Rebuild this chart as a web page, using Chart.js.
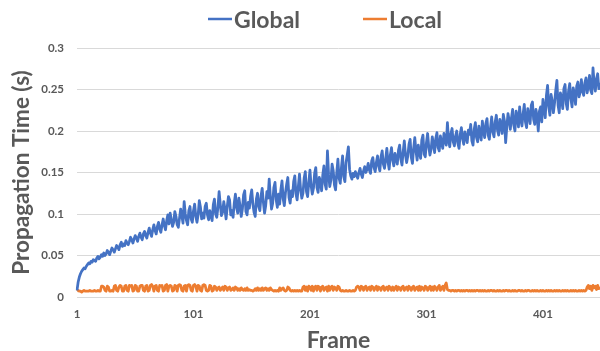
<!DOCTYPE html>
<html>
<head>
<meta charset="utf-8">
<script src="https://cdn.jsdelivr.net/npm/chart.js@4/dist/chart.umd.min.js"></script>
<style>
  html, body { margin: 0; padding: 0; background: #ffffff; }
  #wrap { width: 600px; height: 351px; }
</style>
</head>
<body>
<div id="wrap"><canvas id="chart" width="600" height="351"></canvas></div>
<script>
// Propagation time per frame (seconds)
const seriesNames = ['Global', 'Local'];
const seriesColors = ['#4472C4', '#ED7D31'];

const globalTimes = [
  0.008, 0.018, 0.024, 0.028, 0.031, 0.033, 0.035, 0.034, 0.037, 0.039,
  0.041, 0.040, 0.043, 0.042, 0.045, 0.044, 0.043, 0.047, 0.049, 0.046,
  0.048, 0.051, 0.049, 0.053, 0.050, 0.052, 0.056, 0.054, 0.051, 0.055,
  0.059, 0.057, 0.054, 0.058, 0.062, 0.060, 0.057, 0.063, 0.066, 0.061,
  0.064, 0.062, 0.068, 0.065, 0.063, 0.067, 0.072, 0.069, 0.065, 0.070,
  0.074, 0.071, 0.067, 0.073, 0.077, 0.072, 0.069, 0.076, 0.079, 0.074,
  0.071, 0.078, 0.083, 0.077, 0.073, 0.081, 0.087, 0.080, 0.076, 0.085,
  0.090, 0.082, 0.078, 0.087, 0.094, 0.086, 0.081, 0.092, 0.099, 0.088,
  0.101, 0.093, 0.085, 0.090, 0.103, 0.097, 0.087, 0.084, 0.095, 0.106,
  0.098, 0.089, 0.115, 0.100, 0.092, 0.087, 0.104, 0.109, 0.094, 0.090,
  0.104, 0.112, 0.097, 0.090, 0.099, 0.116, 0.108, 0.094, 0.101, 0.095,
  0.109, 0.113, 0.099, 0.093, 0.104, 0.098, 0.092, 0.111, 0.118, 0.100,
  0.096, 0.108, 0.127, 0.112, 0.098, 0.102, 0.115, 0.106, 0.094, 0.109,
  0.121, 0.117, 0.099, 0.104, 0.096, 0.113, 0.124, 0.108, 0.101, 0.119,
  0.110, 0.097, 0.106, 0.123, 0.128, 0.103, 0.099, 0.114, 0.107, 0.121,
  0.129, 0.112, 0.102, 0.097, 0.118, 0.125, 0.109, 0.104, 0.122, 0.131,
  0.114, 0.101, 0.110, 0.127, 0.119, 0.142, 0.121, 0.106, 0.113, 0.132,
  0.138, 0.117, 0.108, 0.124, 0.112, 0.129, 0.140, 0.118, 0.110, 0.126,
  0.136, 0.144, 0.120, 0.113, 0.128, 0.121, 0.139, 0.146, 0.124, 0.117,
  0.133, 0.148, 0.129, 0.119, 0.125, 0.143, 0.151, 0.127, 0.121, 0.138,
  0.153, 0.134, 0.124, 0.131, 0.149, 0.156, 0.132, 0.126, 0.144, 0.139,
  0.128, 0.147, 0.158, 0.136, 0.130, 0.176, 0.148, 0.133, 0.141, 0.160,
  0.152, 0.135, 0.129, 0.150, 0.166, 0.143, 0.137, 0.156, 0.170, 0.145,
  0.139, 0.162, 0.171, 0.181, 0.154, 0.146, 0.142, 0.149, 0.145, 0.151,
  0.147, 0.143, 0.150, 0.155, 0.148, 0.144, 0.152, 0.157, 0.150, 0.154,
  0.161, 0.153, 0.149, 0.164, 0.168, 0.156, 0.151, 0.162, 0.170, 0.158,
  0.152, 0.169, 0.176, 0.160, 0.155, 0.166, 0.179, 0.163, 0.154, 0.171,
  0.180, 0.165, 0.158, 0.173, 0.167, 0.160, 0.177, 0.183, 0.166, 0.159,
  0.175, 0.188, 0.171, 0.162, 0.170, 0.184, 0.190, 0.168, 0.161, 0.179,
  0.192, 0.176, 0.165, 0.183, 0.174, 0.167, 0.189, 0.195, 0.172, 0.169,
  0.186, 0.197, 0.181, 0.171, 0.178, 0.193, 0.184, 0.174, 0.191, 0.198,
  0.180, 0.176, 0.194, 0.186, 0.179, 0.197, 0.188, 0.183, 0.210, 0.189,
  0.181, 0.197, 0.203, 0.187, 0.182, 0.194, 0.200, 0.185, 0.179, 0.196,
  0.204, 0.191, 0.184, 0.199, 0.193, 0.186, 0.201, 0.196, 0.208, 0.188,
  0.183, 0.202, 0.210, 0.192, 0.187, 0.206, 0.197, 0.189, 0.212, 0.200,
  0.192, 0.209, 0.215, 0.195, 0.190, 0.204, 0.217, 0.199, 0.193, 0.211,
  0.219, 0.201, 0.195, 0.214, 0.208, 0.197, 0.220, 0.212, 0.186, 0.205,
  0.221, 0.213, 0.202, 0.216, 0.226, 0.207, 0.200, 0.224, 0.218, 0.205,
  0.229, 0.214, 0.206, 0.221, 0.232, 0.211, 0.204, 0.227, 0.219, 0.209,
  0.231, 0.235, 0.214, 0.208, 0.226, 0.218, 0.200, 0.224, 0.229, 0.211,
  0.238, 0.227, 0.216, 0.243, 0.255, 0.229, 0.219, 0.244, 0.236, 0.222,
  0.234, 0.249, 0.261, 0.231, 0.222, 0.246, 0.240, 0.227, 0.251, 0.256,
  0.233, 0.226, 0.248, 0.257, 0.239, 0.229, 0.252, 0.245, 0.232, 0.254,
  0.259, 0.241, 0.247, 0.262, 0.248, 0.243, 0.258, 0.264, 0.246, 0.255,
  0.267, 0.249, 0.245, 0.276, 0.257, 0.248, 0.263, 0.269, 0.251, 0.258
];

const localTimes = [
  0.007, 0.008, 0.007, 0.007, 0.006, 0.007, 0.008, 0.007, 0.007, 0.007,
  0.007, 0.008, 0.007, 0.007, 0.007, 0.008, 0.007, 0.007, 0.008, 0.007,
  0.007, 0.013, 0.013, 0.012, 0.008, 0.007, 0.013, 0.012, 0.007, 0.007,
  0.008, 0.007, 0.013, 0.014, 0.008, 0.007, 0.012, 0.014, 0.013, 0.007,
  0.007, 0.013, 0.014, 0.008, 0.007, 0.014, 0.013, 0.014, 0.007, 0.008,
  0.014, 0.013, 0.007, 0.007, 0.013, 0.014, 0.014, 0.008, 0.007, 0.013,
  0.014, 0.007, 0.008, 0.014, 0.015, 0.013, 0.007, 0.013, 0.014, 0.008,
  0.007, 0.014, 0.013, 0.014, 0.007, 0.008, 0.014, 0.015, 0.007, 0.013,
  0.014, 0.013, 0.007, 0.008, 0.014, 0.013, 0.007, 0.014, 0.015, 0.014,
  0.008, 0.007, 0.013, 0.014, 0.007, 0.014, 0.015, 0.014, 0.008, 0.007,
  0.014, 0.015, 0.013, 0.007, 0.014, 0.013, 0.008, 0.007, 0.014, 0.015,
  0.014, 0.008, 0.007, 0.008, 0.014, 0.013, 0.007, 0.008, 0.013, 0.012,
  0.008, 0.011, 0.012, 0.008, 0.010, 0.012, 0.008, 0.013, 0.012, 0.008,
  0.011, 0.012, 0.008, 0.009, 0.011, 0.008, 0.012, 0.011, 0.008, 0.010,
  0.008, 0.011, 0.009, 0.008, 0.010, 0.008, 0.011, 0.008, 0.009, 0.008,
  0.008, 0.007, 0.008, 0.010, 0.008, 0.011, 0.008, 0.010, 0.008, 0.011,
  0.008, 0.010, 0.011, 0.008, 0.010, 0.008, 0.011, 0.009, 0.008, 0.007,
  0.008, 0.007, 0.008, 0.007, 0.011, 0.008, 0.010, 0.011, 0.008, 0.007,
  0.008, 0.012, 0.011, 0.008, 0.007, 0.008, 0.007, 0.008, 0.007, 0.008,
  0.007, 0.008, 0.007, 0.007, 0.012, 0.013, 0.008, 0.012, 0.007, 0.013,
  0.012, 0.008, 0.013, 0.007, 0.012, 0.013, 0.008, 0.013, 0.012, 0.007,
  0.012, 0.013, 0.008, 0.011, 0.012, 0.007, 0.013, 0.008, 0.012, 0.013,
  0.008, 0.012, 0.011, 0.008, 0.013, 0.012, 0.008, 0.007, 0.008, 0.007,
  0.007, 0.008, 0.007, 0.007, 0.008, 0.007, 0.007, 0.008, 0.007, 0.008,
  0.012, 0.013, 0.012, 0.008, 0.013, 0.012, 0.008, 0.012, 0.013, 0.008,
  0.011, 0.012, 0.008, 0.013, 0.012, 0.008, 0.011, 0.013, 0.008, 0.012,
  0.011, 0.008, 0.012, 0.013, 0.008, 0.011, 0.012, 0.008, 0.013, 0.011,
  0.008, 0.012, 0.008, 0.011, 0.013, 0.008, 0.012, 0.011, 0.008, 0.012,
  0.013, 0.008, 0.011, 0.012, 0.008, 0.013, 0.011, 0.008, 0.012, 0.013,
  0.008, 0.011, 0.012, 0.008, 0.013, 0.008, 0.012, 0.011, 0.008, 0.013,
  0.012, 0.008, 0.011, 0.013, 0.008, 0.012, 0.008, 0.013, 0.011, 0.008,
  0.012, 0.014, 0.008, 0.011, 0.013, 0.008, 0.014, 0.017, 0.009, 0.008,
  0.008, 0.007, 0.008, 0.008, 0.007, 0.008, 0.007, 0.008, 0.008, 0.007,
  0.008, 0.007, 0.008, 0.007, 0.008, 0.008, 0.007, 0.008, 0.007, 0.008,
  0.007, 0.008, 0.007, 0.008, 0.008, 0.007, 0.008, 0.007, 0.008, 0.007,
  0.008, 0.007, 0.007, 0.008, 0.007, 0.008, 0.008, 0.007, 0.008, 0.007,
  0.007, 0.008, 0.007, 0.008, 0.007, 0.007, 0.008, 0.007, 0.008, 0.008,
  0.007, 0.008, 0.007, 0.007, 0.008, 0.007, 0.008, 0.007, 0.007, 0.008,
  0.008, 0.007, 0.008, 0.007, 0.007, 0.008, 0.007, 0.008, 0.008, 0.007,
  0.007, 0.008, 0.007, 0.008, 0.007, 0.008, 0.007, 0.007, 0.008, 0.007,
  0.008, 0.007, 0.007, 0.008, 0.007, 0.008, 0.007, 0.008, 0.007, 0.007,
  0.008, 0.007, 0.008, 0.007, 0.008, 0.007, 0.007, 0.008, 0.007, 0.008,
  0.007, 0.008, 0.007, 0.007, 0.008, 0.007, 0.008, 0.007, 0.008, 0.007,
  0.007, 0.008, 0.007, 0.008, 0.007, 0.008, 0.007, 0.008, 0.012, 0.014,
  0.010, 0.013, 0.008, 0.014, 0.011, 0.013, 0.009, 0.014, 0.010, 0.012
];

// Frame numbers 1..N on the category axis; a label every 100 frames
const frameLabels = globalTimes.map((_, i) => String(i + 1));
const frameLabelStep = 100;
const yTickValues = [0, 0.05, 0.1, 0.15, 0.2, 0.25, 0.3];

const textColor = '#595959';
const gridColor = '#D9D9D9';
const fontFamily = 'Lato, "Open Sans", sans-serif';

// Horizontal legend row: short line sample followed by the series name
const legendRow = {
  id: 'legendRow',
  afterDraw(chart, args, opts) {
    const ctx = chart.ctx;
    ctx.save();
    ctx.font = `bold ${opts.fontSize}px ${fontFamily}`;
    ctx.textBaseline = 'alphabetic';
    ctx.textAlign = 'left';
    chart.data.datasets.forEach((ds, i) => {
      const x = opts.starts[i];
      ctx.strokeStyle = ds.borderColor;
      ctx.lineWidth = opts.lineWidth;
      ctx.lineCap = 'butt';
      ctx.beginPath();
      ctx.moveTo(x, opts.lineY);
      ctx.lineTo(x + opts.lineLength, opts.lineY);
      ctx.stroke();
      ctx.fillStyle = opts.color;
      ctx.fillText(ds.label, x + opts.lineLength + opts.gap, opts.textBaseline);
    });
    ctx.restore();
  }
};

new Chart(document.getElementById('chart'), {
  type: 'line',
  data: {
    labels: frameLabels,
    datasets: [
      {
        label: seriesNames[0],
        data: globalTimes,
        borderColor: seriesColors[0],
        backgroundColor: seriesColors[0],
        borderWidth: 2.75,
        borderJoinStyle: 'round',
        pointRadius: 0,
        tension: 0,
        fill: false
      },
      {
        label: seriesNames[1],
        data: localTimes,
        borderColor: seriesColors[1],
        backgroundColor: seriesColors[1],
        borderWidth: 2.75,
        borderJoinStyle: 'round',
        pointRadius: 0,
        tension: 0,
        fill: false
      }
    ]
  },
  options: {
    responsive: false,
    animation: false,
    events: [],
    layout: { padding: { top: 48, right: 0, bottom: 0, left: 0 } },
    plugins: {
      legend: { display: false },
      tooltip: { enabled: false },
      legendRow: {
        starts: [208, 363],
        lineLength: 24,
        lineWidth: 2.5,
        lineY: 19,
        gap: 2,
        textBaseline: 28,
        fontSize: 23,
        color: textColor
      }
    },
    scales: {
      x: {
        type: 'category',
        offset: false,
        grid: { display: false, drawTicks: false },
        border: { display: false },
        ticks: {
          autoSkip: false,
          maxRotation: 0,
          minRotation: 0,
          padding: 0,
          color: textColor,
          font: { family: fontFamily, size: 11.5, weight: 'bold', lineHeight: 2.94 },
          callback: (value, index) => (index % frameLabelStep === 0 ? frameLabels[index] : '')
        },
        title: {
          display: true,
          text: 'Frame',
          color: textColor,
          font: { family: fontFamily, size: 23, weight: 'bold', lineHeight: 0.9 },
          padding: { top: 0, bottom: 0 }
        },
        afterFit: (scale) => { scale.height = 54; }
      },
      y: {
        min: 0,
        max: 0.3,
        afterBuildTicks: (scale) => { scale.ticks = yTickValues.map(v => ({ value: v })); },
        grid: { color: gridColor, lineWidth: 1, drawTicks: false },
        border: { display: false },
        ticks: {
          padding: 13,
          color: textColor,
          font: { family: fontFamily, size: 11.5, weight: 'bold' },
          callback: (value) => String(+value.toFixed(2))
        },
        title: {
          display: true,
          text: 'Propagation Time (s)',
          color: textColor,
          font: { family: fontFamily, size: 22.5, weight: 'bold' },
          padding: { top: 8, bottom: 0 }
        },
        afterFit: (scale) => { scale.width = 77; }
      }
    }
  },
  plugins: [legendRow]
});
</script>
</body>
</html>
